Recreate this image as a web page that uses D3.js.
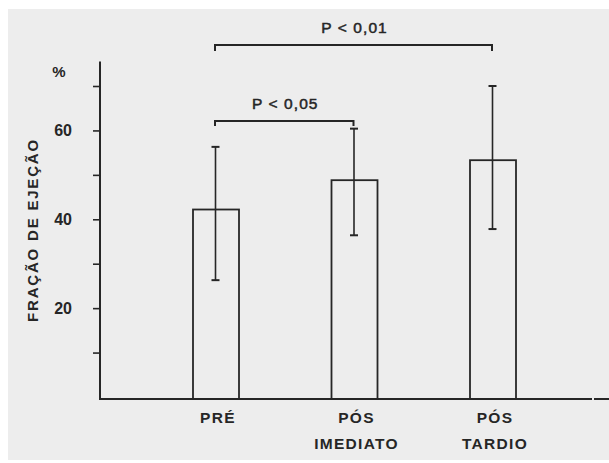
<!DOCTYPE html>
<html>
<head>
<meta charset="utf-8">
<script src="https://cdn.jsdelivr.net/npm/d3@7"></script>
<style>
  html, body { margin: 0; padding: 0; background: #ffffff; }
  svg { display: block; }
  text { font-family: "Liberation Sans", Arial, sans-serif; fill: #262626; }
</style>
</head>
<body>
<div id="chart"></div>
<script>
// ---- data ----
const categories = ["PRÉ", "PÓS IMEDIATO", "PÓS TARDIO"];
const labelLines = [["PRÉ"], ["PÓS", "IMEDIATO"], ["PÓS", "TARDIO"]];
const means = [42.2, 48.8, 53.3];
const errLow = [26.3, 36.4, 37.8];
const errHigh = [56.3, 60.4, 70.0];
const tickValues = [10, 20, 30, 40, 50, 60, 70];
const tickLabels = ["", "20", "", "40", "", "60", ""];
const comparisons = [
  { from: "PRÉ", to: "PÓS IMEDIATO", label: "P < 0,05", level: 0 },
  { from: "PRÉ", to: "PÓS TARDIO", label: "P < 0,01", level: 1 }
];
const yTitle = "FRAÇÃO DE EJEÇÃO";
const unitLabel = "%";

// ---- layout ----
const W = 609, H = 463;
const ink = "#262626";
const svg = d3.select("#chart").append("svg").attr("width", W).attr("height", H);

svg.append("rect").attr("x", 8).attr("y", 9).attr("width", W - 8).attr("height", H - 12)
  .attr("fill", "#ededed");

const y = d3.scaleLinear().domain([0, 70]).range([397, 86]);
const x = d3.scalePoint().domain(categories).range([216, 493]);
const barW = 46;
const axisX = 100;

// y axis
const yAxis = d3.axisLeft(y).tickValues(tickValues).tickSize(7).tickPadding(21)
  .tickFormat((d, i) => tickLabels[i]);
const gy = svg.append("g").attr("transform", `translate(${axisX},0)`).call(yAxis);
gy.select(".domain").remove();
gy.selectAll(".tick line").attr("stroke", ink).attr("stroke-width", 1.6);
gy.selectAll(".tick text").attr("font-size", 16).attr("font-weight", "bold")
  .attr("fill", ink).style("font-family", "Liberation Sans, Arial, sans-serif");

svg.append("line").attr("x1", axisX).attr("x2", axisX)
  .attr("y1", y(75.5)).attr("y2", y(0) + 3)
  .attr("stroke", ink).attr("stroke-width", 2);

// x axis line
svg.append("line").attr("x1", axisX - 1).attr("x2", 592)
  .attr("y1", y(0) + 2).attr("y2", y(0) + 2)
  .attr("stroke", ink).attr("stroke-width", 2);
svg.append("line").attr("x1", 594).attr("x2", W)
  .attr("y1", y(0) + 2).attr("y2", y(0) + 2)
  .attr("stroke", ink).attr("stroke-width", 2);

// unit label
svg.append("text").attr("x", 59).attr("y", 77).attr("text-anchor", "middle")
  .attr("font-size", 15).attr("font-weight", "bold").text(unitLabel);

// y title
svg.append("text")
  .attr("transform", `translate(38,230) rotate(-90)`)
  .attr("text-anchor", "middle")
  .attr("font-size", 15).attr("font-weight", "bold")
  .attr("letter-spacing", 1.8)
  .text(yTitle);

// bars
svg.selectAll("rect.bar").data(categories).enter().append("rect")
  .attr("class", "bar")
  .attr("x", d => x(d) - barW / 2)
  .attr("y", (d, i) => y(means[i]))
  .attr("width", barW)
  .attr("height", (d, i) => y(0) + 2 - y(means[i]))
  .attr("fill", "none").attr("stroke", ink).attr("stroke-width", 1.8);

// error bars
const eg = svg.selectAll("g.err").data(categories).enter().append("g").attr("class", "err");
eg.append("line")
  .attr("x1", d => x(d) - 0.5).attr("x2", d => x(d) - 0.5)
  .attr("y1", (d, i) => y(errHigh[i])).attr("y2", (d, i) => y(errLow[i]))
  .attr("stroke", ink).attr("stroke-width", 1.6);
eg.append("line")
  .attr("x1", d => x(d) - 4.5).attr("x2", d => x(d) + 3.5)
  .attr("y1", (d, i) => y(errHigh[i])).attr("y2", (d, i) => y(errHigh[i]))
  .attr("stroke", ink).attr("stroke-width", 2);
eg.append("line")
  .attr("x1", d => x(d) - 4.5).attr("x2", d => x(d) + 3.5)
  .attr("y1", (d, i) => y(errLow[i])).attr("y2", (d, i) => y(errLow[i]))
  .attr("stroke", ink).attr("stroke-width", 2);

// significance brackets
const bracketY = [121, 45];
const bracketDrop = [5, 6];
comparisons.forEach(c => {
  const x1 = x(c.from) - 1, x2 = x(c.to) - 1;
  const by = bracketY[c.level], dr = bracketDrop[c.level];
  svg.append("path")
    .attr("d", `M${x1},${by + dr}V${by}H${x2}V${by + dr}`)
    .attr("fill", "none").attr("stroke", ink).attr("stroke-width", 2);
  svg.append("text")
    .attr("x", (x1 + x2) / 2 + 1).attr("y", by - 12)
    .attr("text-anchor", "middle")
    .attr("font-size", 15.5).attr("letter-spacing", 1.1)
    .attr("stroke", ink).attr("stroke-width", 0.5)
    .text(c.label);
});

// category labels
categories.forEach((c, i) => {
  const t = svg.append("text").attr("text-anchor", "middle")
    .attr("font-size", 15.5).attr("font-weight", "bold").attr("letter-spacing", 1.3);
  labelLines[i].forEach((ln, j) => {
    t.append("tspan").attr("x", x(c) + 2).attr("y", 423 + j * 26).text(ln);
  });
});
</script>
</body>
</html>
